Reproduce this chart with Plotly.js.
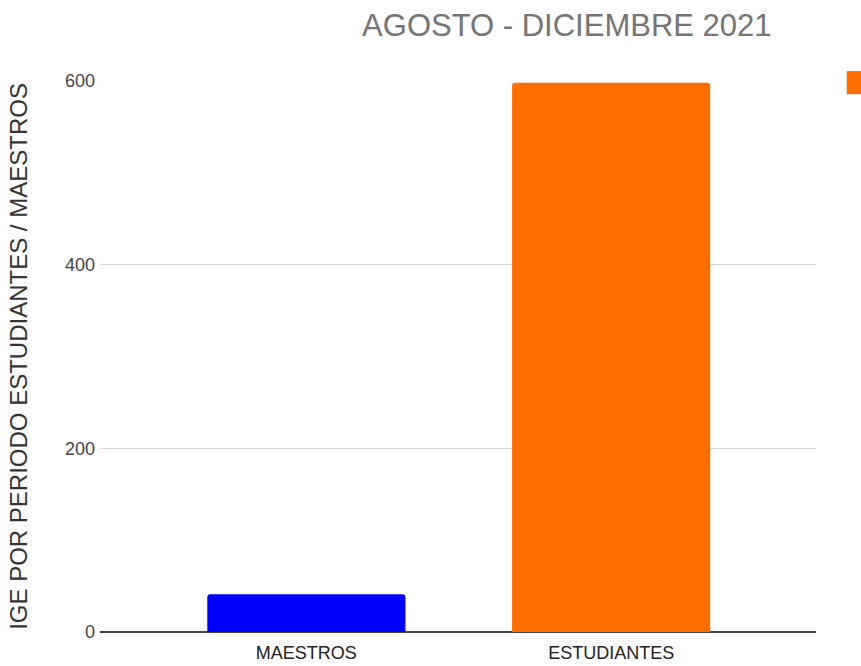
<!DOCTYPE html>
<html>
<head>
<meta charset="utf-8">
<script src="https://cdn.plot.ly/plotly-3.0.1.min.js"></script>
<style>html,body{margin:0;padding:0;background:#fff;}#chart{width:861px;height:666px;}</style>
</head>
<body>
<div id="chart"></div>
<script>
const categories = ["MAESTROS", "ESTUDIANTES"];
const values = [41, 598];
const barColors = ["#0000ff", "#ff6d00"];
const yTicks = [0, 200, 400, 600];
const chartTitle = "AGOSTO - DICIEMBRE 2021";
const yTitle = "IGE POR PERIODO ESTUDIANTES / MAESTROS";

const trace = {
  type: "bar",
  x: categories,
  y: values,
  width: 0.65,
  marker: {color: barColors, line: {width: 0}},
  showlegend: false,
  hoverinfo: "x+y"
};

const layout = {
  width: 861, height: 666,
  paper_bgcolor: "#fff", plot_bgcolor: "#fff",
  margin: {l: 100, r: 45, t: 81, b: 34},
  barcornerradius: 3,
  font: {family: "Liberation Sans, Arial, sans-serif", color: "#444"},
  title: {text: chartTitle, x: 0.652, xanchor: "center", xref: "paper", y: 0.962, yanchor: "middle",
          font: {size: 31, color: "#757575", family: "Liberation Sans, Arial, sans-serif"}},
  xaxis: {
    range: [-0.677, 1.672],
    showgrid: false, zeroline: false, showline: false,
    ticks: "", tickfont: {size: 18, color: "#222"},
    ticklabelstandoff: 8,
    fixedrange: true
  },
  yaxis: {
    range: [0, 600],
    tickvals: yTicks,
    ticktext: yTicks.map(String),
    showgrid: true, gridcolor: "#d6d6d6", gridwidth: 1,
    zeroline: true, zerolinecolor: "#444", zerolinewidth: 2,
    showline: false, ticks: "", ticklen: 0,
    tickfont: {size: 18, color: "#444"},
    ticklabelstandoff: 4,
    title: {text: yTitle, font: {size: 24, color: "#333"}, standoff: 30},
    fixedrange: true
  },
  shapes: [{
    type: "rect", xref: "paper", yref: "paper",
    x0: 1.0429, x1: 1.08, y0: 0.976, y1: 1.018,
    fillcolor: "#ff6d00", line: {width: 0}
  }]
};

Plotly.newPlot("chart", [trace], layout, {displayModeBar: false, staticPlot: true});
</script>
</body>
</html>
